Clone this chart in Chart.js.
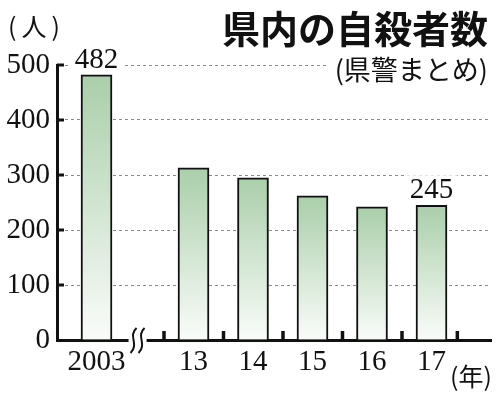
<!DOCTYPE html>
<html>
<head>
<meta charset="utf-8">
<script src="https://cdn.jsdelivr.net/npm/chart.js@4/dist/chart.umd.min.js"></script>
<style>
  html, body { margin: 0; padding: 0; background: #fff; }
  #wrap { width: 500px; height: 397px; }
</style>
</head>
<body>
<div id="wrap"><canvas id="chart"></canvas></div>
<script>
// data (人)
const years = ['2003', '13', '14', '15', '16', '17'];
const suicides = [482, 313, 295, 262, 242, 245];
const yTicks = [0, 100, 200, 300, 400, 500];
const labeledBars = [0, 5];

const title = '県内の自殺者数';
const subtitle = '(県警まとめ)';
const yUnit = '(人)';
const xUnit = '(年)';

// axis layout: first bar stands apart, the rest one unit apart
const gapAfterFirst = 1.63;
const xPos = years.map((_, i) => i === 0 ? 0 : gapAfterFirst + (i - 1));
const breakAt = 0.69;

const serif = '"Liberation Serif", "DejaVu Serif", serif';
const gothic = '"Noto Sans CJK JP", sans-serif';

function barFill(ctx) {
    const chart = ctx.chart;
    const y = chart.scales.y;
    if (!y || !ctx.parsed) return 'rgb(175,208,175)';
    const top = y.getPixelForValue(ctx.parsed.y);
    const base = y.getPixelForValue(0);
    if (!isFinite(top) || !isFinite(base) || top === base) return 'rgb(175,208,175)';
    const g = chart.ctx.createLinearGradient(0, top, 0, base);
    g.addColorStop(0, 'rgb(170,206,170)');
    g.addColorStop(1, 'rgb(250,252,250)');
    return g;
}

const decorations = {
    id: 'decorations',
    afterDraw(chart) {
        const c = chart.ctx;
        const area = chart.chartArea;
        const xs = chart.scales.x, ys = chart.scales.y;
        const meta = chart.getDatasetMeta(0);

        c.save();
        c.setLineDash([]);
        c.fillStyle = '#111';
        // inner ticks on the y axis
        yTicks.slice(1).forEach(v => {
            const py = ys.getPixelForValue(v);
            c.fillRect(area.left, py - 1.5, 7, 3);
        });

        // small upward ticks between the later bars
        const marks = [];
        for (let i = 1; i < xPos.length; i++) marks.push(xPos[i] - 0.5);
        marks.push(xPos[xPos.length - 1] + 0.43);
        marks.forEach(v => {
            const px = xs.getPixelForValue(v);
            c.fillRect(px - 1.5, area.bottom - 9, 3.5, 9);
        });

        // axis break
        const bx = xs.getPixelForValue(breakAt);
        c.fillStyle = '#fff';
        c.fillRect(bx - 9, area.bottom - 3, 18, 6);
        c.strokeStyle = '#111';
        c.lineWidth = 2;
        [-4, 4].forEach(dx => {
            const x0 = bx + dx;
            c.beginPath();
            c.moveTo(x0 + 3, area.bottom - 12);
            c.bezierCurveTo(x0 - 6, area.bottom - 4, x0 + 6, area.bottom + 4, x0 - 3, area.bottom + 13);
            c.stroke();
        });

        // value labels
        c.font = '29px ' + serif;
        c.textAlign = 'center';
        c.textBaseline = 'alphabetic';
        labeledBars.forEach(i => {
            const bar = meta.data[i];
            const txt = String(suicides[i]);
            const w = c.measureText(txt).width;
            c.fillStyle = '#fff';
            c.fillRect(bar.x - w / 2 - 4, bar.y - 30, w + 8, 24);
            c.fillStyle = '#111';
            c.fillText(txt, bar.x, bar.y - 7);
        });

        // title and subtitle
        c.textAlign = 'right';
        c.textBaseline = 'middle';
        c.font = 'bold 38px ' + gothic;
        c.fillStyle = '#111';
        c.fillText(title, 488, 29);
        c.font = '27px ' + gothic;
        const sw = c.measureText(subtitle).width;
        c.fillStyle = '#fff';
        c.fillRect(488 - sw - 7, 55, sw + 9, 30);
        c.fillStyle = '#111';
        c.fillText(subtitle, 488, 70);

        // unit labels
        c.font = '25px ' + gothic;
        c.textAlign = 'left';
        c.letterSpacing = '5px';
        c.fillText(yUnit, 8, 26);
        c.letterSpacing = '0px';
        c.fillText(xUnit, 450, 376);
        c.restore();
    }
};

new Chart(document.getElementById('chart'), {
    type: 'bar',
    data: {
        datasets: [{
            data: years.map((y, i) => ({ x: xPos[i], y: suicides[i] })),
            backgroundColor: barFill,
            borderColor: '#111',
            borderWidth: 2,
            barThickness: 31,
        }]
    },
    options: {
        responsive: true,
        maintainAspectRatio: false,
        animation: false,
        layout: { padding: { top: 65, right: 9, left: 0, bottom: 0 } },
        plugins: {
            legend: { display: false },
            tooltip: { enabled: false },
        },
        scales: {
            x: {
                type: 'linear',
                offset: false,
                min: -0.664,
                max: 6.63,
                afterFit: scale => { scale.height = 57; },
                afterBuildTicks: scale => { scale.ticks = xPos.map(v => ({ value: v })); },
                grid: { display: false },
                border: { display: true, color: '#111', width: 3 },
                ticks: {
                    autoSkip: false,
                    maxRotation: 0,
                    padding: -3,
                    color: '#111',
                    font: { family: serif, size: 29 },
                    callback: (value, index) => years[index],
                },
            },
            y: {
                min: 0,
                max: 500,
                afterFit: scale => { scale.width = 57; },
                afterBuildTicks: scale => { scale.ticks = yTicks.map(v => ({ value: v })); },
                grid: { color: '#8a8a8a', lineWidth: 1, drawTicks: false },
                border: { display: true, color: '#111', width: 3, dash: [3, 3] },
                ticks: {
                    padding: 7,
                    color: '#111',
                    font: { family: serif, size: 29 },
                },
            }
        }
    },
    plugins: [decorations]
});
</script>
</body>
</html>
